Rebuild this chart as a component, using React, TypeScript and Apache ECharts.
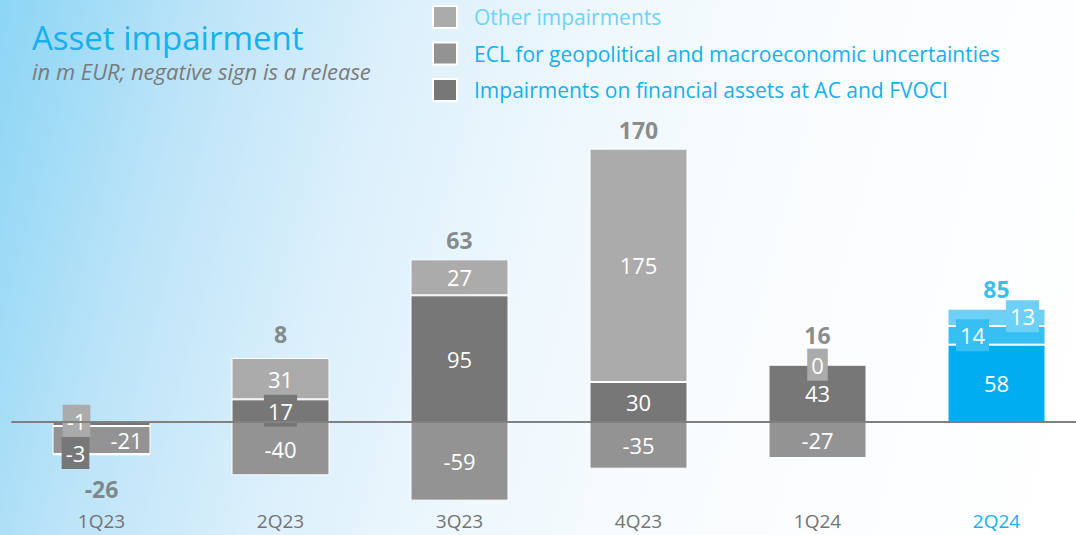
import React, { useEffect, useRef } from "react";
import * as echarts from "echarts";

const categories = ["1Q23", "2Q23", "3Q23", "4Q23", "1Q24", "2Q24"];
const impairmentValues = [-3, 17, 95, 30, 43, 58];
const eclValues = [-21, -40, -59, -35, -27, 14];
const otherValues = [-1, 31, 27, 175, 0, 13];
const totalValues = [-26, 8, 63, 170, 16, 85];

const SERIES_IMP = "Impairments on financial assets at AC and FVOCI";
const SERIES_ECL = "ECL for geopolitical and macroeconomic uncertainties";
const SERIES_OTHER = "Other impairments";

const FONT = "'Open Sans', 'Noto Sans', sans-serif";
const GREY_DARK = "#777777";
const GREY_MID = "#939393";
const GREY_LIGHT = "#ababab";
const BLUE = "#00aeef";
const BLUE_MID = "#36bff2";
const BLUE_LIGHT = "#6dd0f6";
const TEXT_BLUE = "#16b0ec";

// per-item label tweaks (style only)
const labelTweaks: Record<string, Record<number, any>> = {
  imp: {
    0: { offset: [-26, 29], backgroundColor: GREY_DARK },
    1: { backgroundColor: GREY_DARK },
  },
  ecl: {
    0: { offset: [25, 0] },
    5: { offset: [-24, 0], backgroundColor: BLUE_MID },
  },
  other: {
    0: { offset: [-25, -34], backgroundColor: GREY_LIGHT },
    4: { backgroundColor: GREY_LIGHT },
    5: { offset: [26, -1], backgroundColor: BLUE_LIGHT },
  },
};
const highlightColors: Record<string, string> = {
  imp: BLUE,
  ecl: BLUE_MID,
  other: BLUE_LIGHT,
};
const totalDistances = [23, 13, 8, 8, 19, 9];

function buildData(key: string, values: number[]) {
  return values.map((v, i) => {
    // a zero would be stacked onto the previous series' sign; keep it on the positive stack
    const item: any = { value: v === 0 ? 1e-9 : v };
    const tw = labelTweaks[key][i];
    if (tw) item.label = { ...tw, padding: tw.backgroundColor ? [5, 4] : 0 };
    if (i === values.length - 1) item.itemStyle = { color: highlightColors[key] };
    return item;
  });
}

const labelBase = {
  show: true,
  position: "inside",
  color: "#ffffff",
  fontSize: 22,
  lineHeight: 22,
  fontFamily: FONT,
  fontWeight: "normal",
  formatter: (p: any) => String(Math.round(p.value)),
};

export default function App() {
  const ref = useRef<HTMLDivElement>(null);
  useEffect(() => {
    if (!ref.current) return;
    const chart = echarts.init(ref.current, null, { renderer: "svg" });

    const anchors = totalValues.map((t, i) => {
      const parts = [impairmentValues[i], eclValues[i], otherValues[i]];
      return t >= 0
        ? parts.filter((p) => p >= 0).reduce((a, b) => a + b, 0)
        : parts.filter((p) => p < 0).reduce((a, b) => a + b, 0);
    });

    const barCommon = {
      type: "bar",
      stack: "total",
      barWidth: 98,
      emphasis: { disabled: true },
      label: labelBase,
    };

    chart.setOption({
      animation: false,
      backgroundColor: "transparent",
      title: {
        text: "Asset impairment",
        subtext: "in m EUR; negative sign is a release",
        left: 27,
        top: 15,
        itemGap: 6,
        textStyle: { fontSize: 33, lineHeight: 34, color: TEXT_BLUE, fontWeight: "normal", fontFamily: FONT },
        subtextStyle: { fontSize: 22, lineHeight: 22, color: "#7a7a7a", fontStyle: "italic", fontFamily: FONT },
      },
      legend: {
        orient: "vertical",
        left: 427,
        top: 0,
        itemWidth: 24,
        itemHeight: 22,
        itemGap: 12.5,
        selectedMode: false,
        icon: "rect",
        textStyle: { fontSize: 21, lineHeight: 22, fontFamily: FONT, color: TEXT_BLUE, padding: [0, 0, 0, 12] },
        data: [
          { name: SERIES_OTHER, textStyle: { color: "#6fd2f7" } },
          { name: SERIES_ECL },
          { name: SERIES_IMP },
        ],
      },
      grid: { left: 12, right: -10, top: 142, bottom: 6.33, containLabel: false, outerBoundsMode: "none" },
      xAxis: {
        type: "category",
        data: categories.map((c, i) =>
          i === categories.length - 1 ? { value: c, textStyle: { color: TEXT_BLUE } } : c
        ),
        axisLine: { onZero: true, lineStyle: { color: "#808080", width: 2 } },
        axisTick: { show: false },
        axisLabel: { margin: -17, fontSize: 19, color: "#737373", fontFamily: FONT },
        z: 10,
      },
      yAxis: {
        type: "value",
        min: -80,
        max: 210,
        show: false,
        splitLine: { show: false },
      },
      series: [
        {
          ...barCommon,
          name: SERIES_IMP,
          itemStyle: { color: GREY_DARK, borderColor: "#ffffff", borderWidth: 1 },
          data: buildData("imp", impairmentValues),
        },
        {
          ...barCommon,
          name: SERIES_ECL,
          itemStyle: { color: GREY_MID, borderColor: "#ffffff", borderWidth: 1 },
          data: buildData("ecl", eclValues),
        },
        {
          ...barCommon,
          name: SERIES_OTHER,
          itemStyle: { color: GREY_LIGHT, borderColor: "#ffffff", borderWidth: 1 },
          data: buildData("other", otherValues),
        },
        {
          type: "scatter",
          name: "total",
          symbolSize: 0,
          silent: true,
          z: 5,
          itemStyle: { color: "transparent" },
          data: anchors.map((a, i) => ({
            value: [i, a],
            label: {
              show: true,
              position: totalValues[i] >= 0 ? "top" : "bottom",
              distance: totalDistances[i],
              formatter: String(totalValues[i]),
              color: i === categories.length - 1 ? BLUE : "#6e6e6e",
              fontSize: 23,
              lineHeight: 22,
              fontWeight: "bold",
              fontFamily: FONT,
            },
          })),
        },
      ],
    });
    return () => chart.dispose();
  }, []);

  return (
    <div
      style={{
        position: "absolute",
        left: 0,
        top: 0,
        width: 1076,
        height: 535,
        overflow: "hidden",
        background:
          "linear-gradient(105deg, #8cd5f5 0%, #bde4f8 17%, #dcf0fb 33%, #eff8fd 50%, #f9fcfe 68%, #ffffff 100%)",
      }}
    >
      <div ref={ref} style={{ width: 1076, height: 535 }} />
    </div>
  );
}
